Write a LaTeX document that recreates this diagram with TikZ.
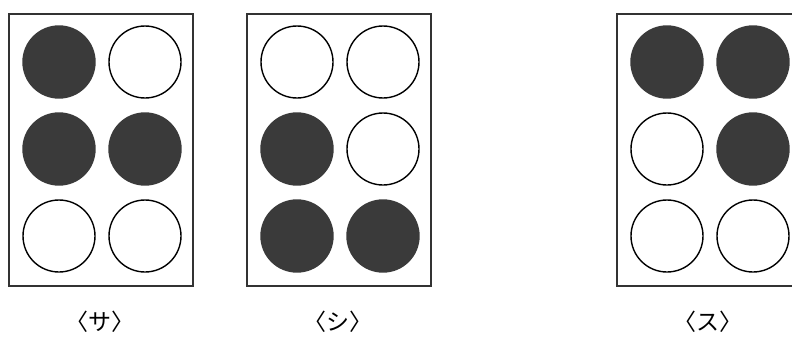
\documentclass[tikz,border=0pt]{standalone}
\usepackage{fontspec}
\newfontfamily\jpfont{Noto Sans CJK JP}
\definecolor{dotgray}{RGB}{58,58,58}

\begin{document}
\begin{tikzpicture}[x=1pt, y=-1pt,
	dot/.style={circle, draw, line width=1.4pt, inner sep=0pt, minimum size=72pt},
	full/.style={dot, fill=dotgray, draw=dotgray},
	cell/.style={draw=black!80, line width=1.8pt},
	lbl/.style={font=\jpfont\fontsize{23pt}{27pt}\selectfont}]

				\useasboundingbox (0,0) rectangle (792,340);

				\begin{scope}[xshift=9pt]
					% frame
					\draw[cell] (0,14) rectangle (184,286);
					% dots
					\node[full] (s1) at (50,62) {};
					\node[dot] (s2) at (136,62) {};
					\node[full] (s3) at (50,149) {};
					\node[full] (s4) at (136,149) {};
					\node[dot] (s5) at (50,236) {};
					\node[dot] (s6) at (136,236) {};
					\node[lbl] (sa) at (91,322) {〈サ〉};
				\end{scope}

				\begin{scope}[xshift=247pt]
					% frame
					\draw[cell] (0,14) rectangle (184,286);
					% dots
					\node[dot] (t1) at (50,62) {};
					\node[dot] (t2) at (136,62) {};
					\node[full] (t3) at (50,149) {};
					\node[dot] (t4) at (136,149) {};
					\node[full] (t5) at (50,236) {};
					\node[full] (t6) at (136,236) {};
					\node[lbl] (shi) at (91,322) {〈シ〉};
				\end{scope}

				\begin{scope}[xshift=617pt]
					% frame
					\draw[cell] (0,14) rectangle (184,286);
					% dots
					\node[full] (u1) at (50,62) {};
					\node[full] (u2) at (136,62) {};
					\node[dot] (u3) at (50,149) {};
					\node[full] (u4) at (136,149) {};
					\node[dot] (u5) at (50,236) {};
					\node[dot] (u6) at (136,236) {};
					\node[lbl] (su) at (91,322) {〈ス〉};
				\end{scope}
			\end{tikzpicture}
\end{document}
